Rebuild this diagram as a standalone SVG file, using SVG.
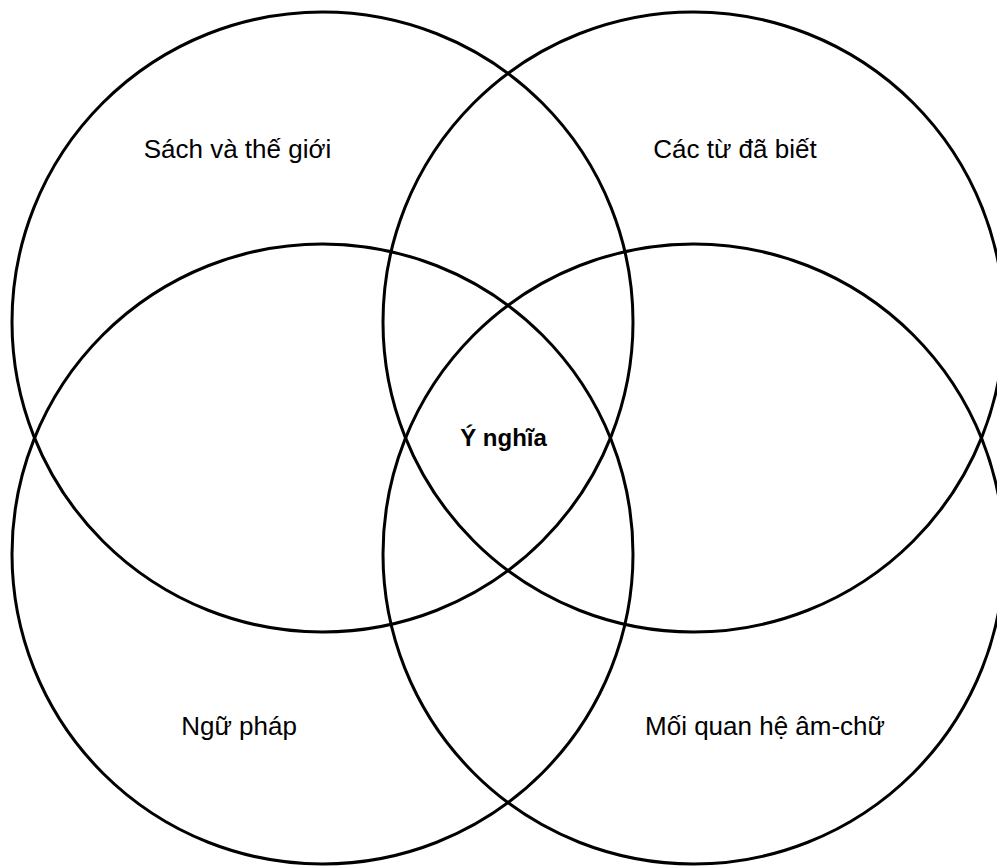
<svg xmlns="http://www.w3.org/2000/svg" width="997" height="866" viewBox="0 0 997 866">
<style>
.c{fill:none;stroke:#000;stroke-width:3}
.t{font-family:"Liberation Sans",Arial,sans-serif;font-size:26px;fill:#000;text-anchor:middle}
.b{font-weight:bold;font-size:24px}
</style>
<rect width="997" height="866" fill="#fff"/>
<g id="n-sach"><ellipse class="c" cx="322.5" cy="322" rx="310.5" ry="310"/><text class="t" x="237.5" y="158">Sách và thế giới</text></g>
<g id="n-tu"><ellipse class="c" cx="693.5" cy="322" rx="310.5" ry="310"/><text class="t" x="735" y="158">Các từ đã biết</text></g>
<g id="n-ngu"><ellipse class="c" cx="322.5" cy="554" rx="310.5" ry="310"/><text class="t" x="239" y="735">Ngữ pháp</text></g>
<g id="n-moi"><ellipse class="c" cx="693.5" cy="554" rx="310.5" ry="310"/><text class="t" x="765" y="735">Mối quan hệ âm-chữ</text></g>
<g id="n-ynghia"><text class="t b" x="503.5" y="446">Ý nghĩa</text></g>
<g id="connectors"></g>
</svg>
